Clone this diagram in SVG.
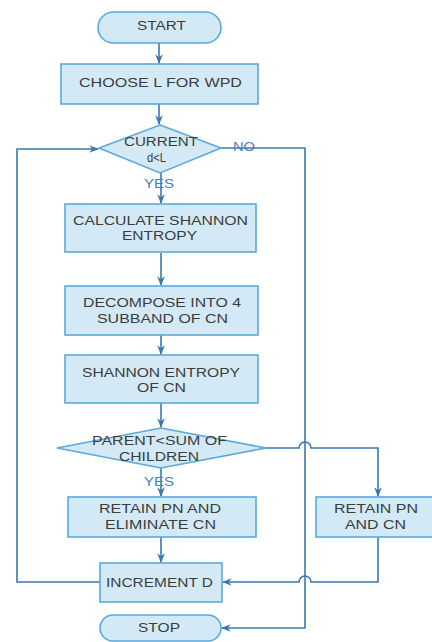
<svg xmlns="http://www.w3.org/2000/svg" width="432" height="642" viewBox="0 0 432 642">
<defs>
<style>
.n{fill:#d3eaf6;stroke:#5aa9dd;stroke-width:1.6}
.t{font-family:"Liberation Sans",Arial,sans-serif;font-size:12.5px;fill:#3c3c3c}
.c{fill:none;stroke:#3a78b0;stroke-width:1.6}
.l{font-family:"Liberation Sans",Arial,sans-serif;font-size:12.5px;fill:#4a7fc0}
</style>
<marker id="a" viewBox="0 0 10 10" refX="9" refY="5" markerWidth="6" markerHeight="6" orient="auto">
<path d="M0,1 L10,5 L0,9 L3,5 Z" fill="#3a78b0"/>
</marker>
</defs>
<g id="connectors">
<path class="c" d="M159,43 V63" marker-end="url(#a)"/>
<path class="c" d="M159,104 V124" marker-end="url(#a)"/>
<path class="c" d="M161,173 V203" marker-end="url(#a)"/>
<path class="c" d="M161,253 V285" marker-end="url(#a)"/>
<path class="c" d="M161,335 V354" marker-end="url(#a)"/>
<path class="c" d="M161,403 V427" marker-end="url(#a)"/>
<path class="c" d="M161,468 V496" marker-end="url(#a)"/>
<path class="c" d="M161,537 V562" marker-end="url(#a)"/>
<path class="c" d="M221,148 H305 V628 H222" marker-end="url(#a)"/>
<path class="c" d="M100,582 H17 V149 H98" marker-end="url(#a)"/>
<path class="c" d="M266,448 H299 A6,6 0 0 1 311,448 H378 V496" marker-end="url(#a)"/>
<path class="c" d="M378,537 V582 H311 A6,6 0 0 0 299,582 H223" marker-end="url(#a)"/>
<text class="l" x="233" y="151" textLength="22" lengthAdjust="spacingAndGlyphs">NO</text>
<text class="l" x="144" y="187.5" textLength="30" lengthAdjust="spacingAndGlyphs">YES</text>
<text class="l" x="144" y="486" textLength="30" lengthAdjust="spacingAndGlyphs">YES</text>
</g>
<g id="start"><rect class="n" x="98" y="12" width="123" height="31" rx="15.5"/><text class="t" x="137" y="30" textLength="49" lengthAdjust="spacingAndGlyphs">START</text></g>
<g id="choose"><rect class="n" x="61" y="64" width="197" height="40"/><text class="t" x="79" y="87" textLength="163" lengthAdjust="spacingAndGlyphs">CHOOSE L FOR WPD</text></g>
<g id="current"><polygon class="n" points="160,125 221,148 160,173 99,148"/><text class="t" x="124" y="145.5" textLength="74" lengthAdjust="spacingAndGlyphs">CURRENT</text><text class="t" x="147" y="161.5" textLength="19" lengthAdjust="spacingAndGlyphs">d&lt;L</text></g>
<g id="calc"><rect class="n" x="65" y="204" width="191" height="48"/><text class="t" x="73" y="224.5" textLength="175" lengthAdjust="spacingAndGlyphs">CALCULATE SHANNON</text><text class="t" x="122" y="240" textLength="75" lengthAdjust="spacingAndGlyphs">ENTROPY</text></g>
<g id="decompose"><rect class="n" x="65" y="286" width="193" height="49"/><text class="t" x="83" y="307" textLength="158" lengthAdjust="spacingAndGlyphs">DECOMPOSE INTO 4</text><text class="t" x="97" y="322.5" textLength="131" lengthAdjust="spacingAndGlyphs">SUBBAND OF CN</text></g>
<g id="shannon"><rect class="n" x="65" y="355" width="193" height="48"/><text class="t" x="82" y="377" textLength="158" lengthAdjust="spacingAndGlyphs">SHANNON ENTROPY</text><text class="t" x="137" y="392" textLength="49" lengthAdjust="spacingAndGlyphs">OF CN</text></g>
<g id="parent"><polygon class="n" points="161,428 266,448 161,468 57,448"/><text class="t" x="92" y="445" textLength="135" lengthAdjust="spacingAndGlyphs">PARENT&lt;SUM OF</text><text class="t" x="119" y="461" textLength="80" lengthAdjust="spacingAndGlyphs">CHILDREN</text></g>
<g id="retain1"><rect class="n" x="68" y="497" width="188" height="40"/><text class="t" x="99" y="513" textLength="122" lengthAdjust="spacingAndGlyphs">RETAIN PN AND</text><text class="t" x="105" y="528.5" textLength="111" lengthAdjust="spacingAndGlyphs">ELIMINATE CN</text></g>
<g id="retain2"><rect class="n" x="316" y="497" width="118" height="40"/><text class="t" x="334" y="513" textLength="84" lengthAdjust="spacingAndGlyphs">RETAIN PN</text><text class="t" x="345" y="528.5" textLength="61" lengthAdjust="spacingAndGlyphs">AND CN</text></g>
<g id="increment"><rect class="n" x="100" y="563" width="122" height="39"/><text class="t" x="106" y="587" textLength="107" lengthAdjust="spacingAndGlyphs">INCREMENT D</text></g>
<g id="stop"><rect class="n" x="100" y="615" width="121" height="26" rx="13"/><text class="t" x="138" y="632" textLength="42" lengthAdjust="spacingAndGlyphs">STOP</text></g>
</svg>
